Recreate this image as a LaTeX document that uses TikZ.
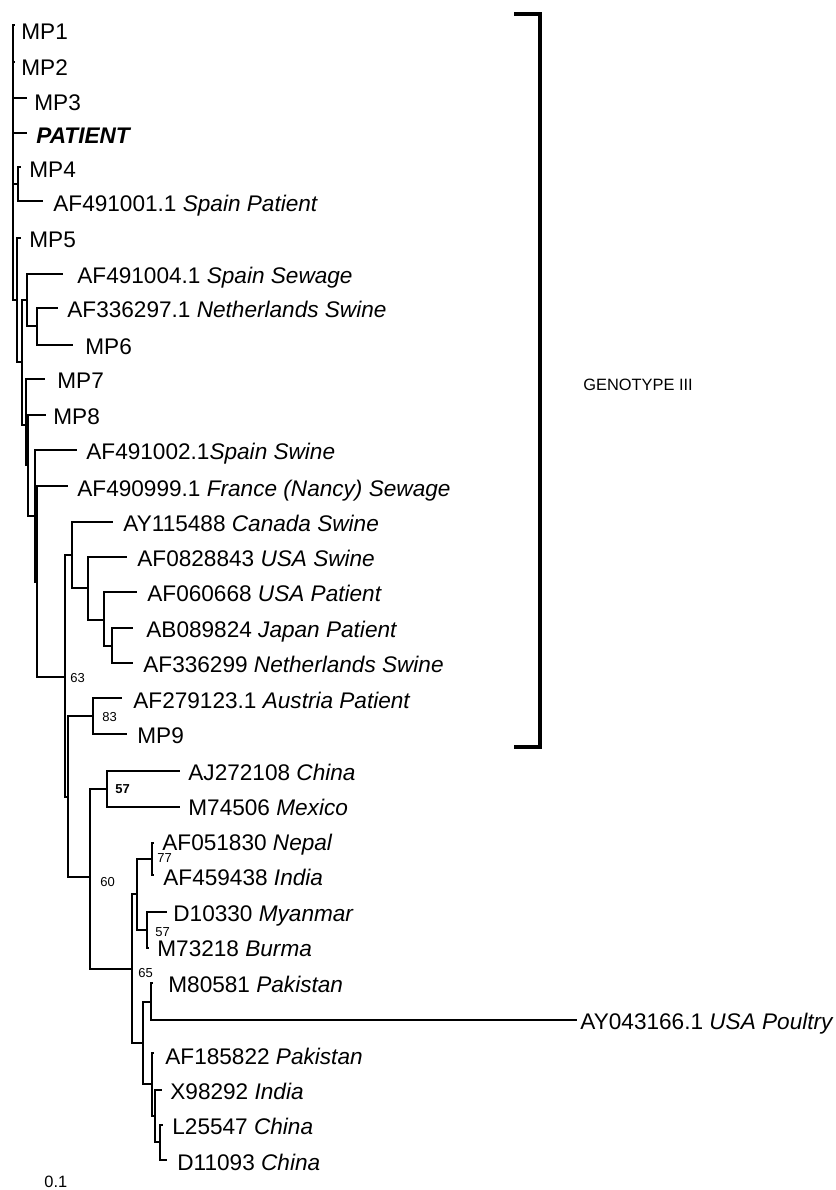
\documentclass[tikz,border=0pt]{standalone}
\usepackage{fontspec}
\setmainfont{Liberation Sans}
\begin{document}
\begin{tikzpicture}[x=0.5pt,y=-0.5pt,
  br/.style={line width=1pt},
  lab/.style={anchor=base west, inner sep=0pt, font=\fontsize{11.3}{13}\selectfont},
  bs/.style={anchor=west, inner sep=0pt, font=\fontsize{6.5}{8}\selectfont},
  sm/.style={anchor=west, inner sep=0pt, font=\fontsize{8.2}{10}\selectfont}]
\path[use as bounding box] (0,0) rectangle (836,1190);

% ---------- internal nodes ----------
\coordinate (R)   at (13,162);
\coordinate (A1)  at (18,184);
\coordinate (N2)  at (17,300);
\coordinate (N3)  at (22,362);
\coordinate (N4)  at (27,300);
\coordinate (N5)  at (37,326);
\coordinate (N6)  at (26,425);
\coordinate (N7)  at (28,465);
\coordinate (N8)  at (35,516);
\coordinate (N9)  at (37,582);
\coordinate (N63) at (65,677);
\coordinate (Ne)  at (72,555);
\coordinate (Nd)  at (88,588);
\coordinate (Nc)  at (104,620);
\coordinate (Nb)  at (112,646);
\coordinate (Nf)  at (68,797);
\coordinate (N83) at (93,716);
\coordinate (N60) at (90,877);
\coordinate (N57a) at (107,789);
\coordinate (N65) at (132,969);
\coordinate (Ng)  at (137,894);
\coordinate (N77) at (152,859);
\coordinate (N57b) at (147,930);
\coordinate (Nh)  at (143,1043);
\coordinate (Ni)  at (151,1002);
\coordinate (Nj)  at (152,1084);
\coordinate (Nk)  at (155,1116);
\coordinate (Nl)  at (160,1142);

% ---------- leaf tips ----------
\coordinate (t1)  at (15,25);
\coordinate (t2)  at (15,62);
\coordinate (t3)  at (27,98);
\coordinate (t4)  at (27,133);
\coordinate (t5)  at (21,167);
\coordinate (t6)  at (43,201);
\coordinate (t7)  at (21,238);
\coordinate (t8)  at (63,274);
\coordinate (t9)  at (58,308);
\coordinate (t10) at (73,345);
\coordinate (t11) at (45,379);
\coordinate (t12) at (46,415);
\coordinate (t13) at (77,450);
\coordinate (t14) at (68,486);
\coordinate (t15) at (113,522);
\coordinate (t16) at (127,557);
\coordinate (t17) at (137,592);
\coordinate (t18) at (133,628);
\coordinate (t19) at (133,663);
\coordinate (t20) at (122,698);
\coordinate (t21) at (127,734);
\coordinate (t22) at (180,771);
\coordinate (t23) at (180,807);
\coordinate (t24) at (154,843);
\coordinate (t25) at (154,875);
\coordinate (t26) at (167,912);
\coordinate (t27) at (149,948);
\coordinate (t28) at (153,983);
\coordinate (t29) at (577,1020);
\coordinate (t30) at (154,1053);
\coordinate (t31) at (162,1090);
\coordinate (t32) at (163,1125);
\coordinate (t33) at (167,1160);

% ---------- labels ----------
\node[lab] (L1)  at (21,39)   {MP1};
\node[lab] (L2)  at (21,75)   {MP2};
\node[lab] (L3)  at (34,110)  {MP3};
\node[lab] (L4)  at (36,143)  {\textbf{\textit{PATIENT}}};
\node[lab] (L5)  at (29,177)  {MP4};
\node[lab] (L6)  at (53,211)  {AF491001.1 \textit{Spain Patient}};
\node[lab] (L7)  at (29,247)  {MP5};
\node[lab] (L8)  at (77,283)  {AF491004.1 \textit{Spain Sewage}};
\node[lab] (L9)  at (67,317)  {AF336297.1 \textit{Netherlands Swine}};
\node[lab] (L10) at (85,354)  {MP6};
\node[lab] (L11) at (57,388)  {MP7};
\node[lab] (L12) at (53,424)  {MP8};
\node[lab] (L13) at (86,459)  {AF491002.1\textit{Spain Swine}};
\node[lab] (L14) at (77,496)  {AF490999.1 \textit{France (Nancy) Sewage}};
\node[lab] (L15) at (123,531) {AY115488 \textit{Canada Swine}};
\node[lab] (L16) at (137,566) {AF0828843 \textit{USA Swine}};
\node[lab] (L17) at (147,601) {AF060668 \textit{USA Patient}};
\node[lab] (L18) at (146,637) {AB089824 \textit{Japan Patient}};
\node[lab] (L19) at (143,672) {AF336299 \textit{Netherlands Swine}};
\node[lab] (L20) at (133,708) {AF279123.1 \textit{Austria Patient}};
\node[lab] (L21) at (137,743) {MP9};
\node[lab] (L22) at (188,780) {AJ272108 \textit{China}};
\node[lab] (L23) at (188,815) {M74506 \textit{Mexico}};
\node[lab] (L24) at (162,850) {AF051830 \textit{Nepal}};
\node[lab] (L25) at (163,885) {AF459438 \textit{India}};
\node[lab] (L26) at (173,921) {D10330 \textit{Myanmar}};
\node[lab] (L27) at (157,956) {M73218 \textit{Burma}};
\node[lab] (L28) at (168,992) {M80581 \textit{Pakistan}};
\node[lab] (L29) at (580,1029) {AY043166.1 \textit{USA Poultry}};
\node[lab] (L30) at (165,1064) {AF185822 \textit{Pakistan}};
\node[lab] (L31) at (170,1099) {X98292 \textit{India}};
\node[lab] (L32) at (172,1134) {L25547 \textit{China}};
\node[lab] (L33) at (177,1170) {D11093 \textit{China}};

% ---------- bootstrap values ----------
\node[bs] (b63)  at (70,678)  {63};
\node[bs] (b83)  at (102,717) {83};
\node[bs,font=\fontsize{6.5}{8}\selectfont\bfseries] (b57a) at (115,789) {57};
\node[bs] (b60)  at (100,882) {60};
\node[bs] (b77)  at (157,858) {77};
\node[bs] (b57b) at (155,932) {57};
\node[bs] (b65)  at (138,973) {65};

% ---------- branches ----------
\draw[br] (R) |- (t1)  (R) |- (t2)  (R) |- (t3)  (R) |- (t4)  (R) |- (A1)  (R) |- (N2);
\draw[br] (A1) |- (t5)  (A1) |- (t6);
\draw[br] (N2) |- (t7)  (N2) |- (N3);
\draw[br] (N3) |- (N4)  (N3) |- (N6);
\draw[br] (N4) |- (t8)  (N4) |- (N5);
\draw[br] (N5) |- (t9)  (N5) |- (t10);
\draw[br] (N6) |- (t11) (N6) |- (N7);
\draw[br] (N7) |- (t12) (N7) |- (N8);
\draw[br] (N8) |- (t13) (N8) |- (N9);
\draw[br] (N9) |- (t14) (N9) |- (N63);
\draw[br] (N63) |- (Ne) (N63) |- (Nf);
\draw[br] (Ne) |- (t15) (Ne) |- (Nd);
\draw[br] (Nd) |- (t16) (Nd) |- (Nc);
\draw[br] (Nc) |- (t17) (Nc) |- (Nb);
\draw[br] (Nb) |- (t18) (Nb) |- (t19);
\draw[br] (Nf) |- (N83) (Nf) |- (N60);
\draw[br] (N83) |- (t20) (N83) |- (t21);
\draw[br] (N60) |- (N57a) (N60) |- (N65);
\draw[br] (N57a) |- (t22) (N57a) |- (t23);
\draw[br] (N65) |- (Ng) (N65) |- (Nh);
\draw[br] (Ng) |- (N77) (Ng) |- (N57b);
\draw[br] (N77) |- (t24) (N77) |- (t25);
\draw[br] (N57b) |- (t26) (N57b) |- (t27);
\draw[br] (Nh) |- (Ni) (Nh) |- (Nj);
\draw[br] (Ni) |- (t28) (Ni) |- (t29);
\draw[br] (Nj) |- (t30) (Nj) |- (Nk);
\draw[br] (Nk) |- (t31) (Nk) |- (Nl);
\draw[br] (Nl) |- (t32) (Nl) |- (t33);

% ---------- genotype bracket ----------
\coordinate (bt) at (514,14);
\coordinate (bc) at (540,14);
\coordinate (bd) at (540,747);
\coordinate (bb) at (514,747);
\draw[line width=1.7pt] (bt) -- (bc) -- (bd) -- (bb);
\node[sm] (geno) at (583,385) {GENOTYPE III};

% ---------- scale ----------
\node[sm] (scale) at (44,1182) {0.1};
\end{tikzpicture}
\end{document}
